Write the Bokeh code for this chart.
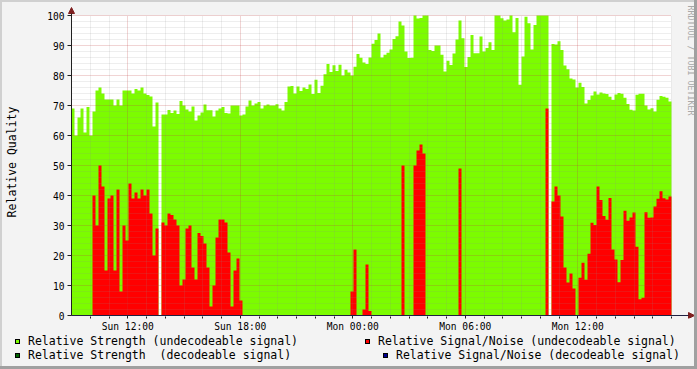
import math
import numpy as np
from bokeh.plotting import figure
from bokeh.layouts import column
from bokeh.models import (Range1d, FixedTicker, Label, Arrow, NormalHead, BoxAnnotation, Div)
from bokeh.embed import file_html
from bokeh.resources import INLINE

nan = float("nan")

# ---- time base: Sun 09:00 .. Mon 17:00 (hours since Sun 00:00) ----
start_hour = 9.0
step_hours = 0.16

# Relative Strength (undecodeable signal)
strength_undecodeable = [
    69, 60, 66, 69, 61, 69.5, 60, 68, 75, 76,
    74, 72, 72, 72, 70, 72, 70, 75, 75, 75,
    74, 75.5, 75, 76, 74, 73.5, 73, 63, 71, nan,
    67, 67, 68.5, 67.5, 68.3, 67.2, 71.5, 70, 68.7, 68,
    69.7, 65, 66.7, 67.7, 70.3, 68.4, 68.4, 66.3, 68.3, 69,
    69.5, 67.5, 67.3, 70, 70, 70, 66.7, 67, 69.7, 71.7,
    70, 70.7, 71.2, 69, 70, 70.3, 70, 70, 70.4, 69,
    68.3, 71.2, 76.3, 76.5, 74, 76.3, 74.8, 76, 75.5, 77,
    73.8, 78.6, 74.2, 76.6, 80.4, 83.8, 81.2, 83.4, 81.5, 83.6,
    80, 81.9, 81, 80, 82.9, 87.2, 85.9, 84.3, 83.8, 86,
    90.6, 91.8, 94, 86, 86.9, 87.6, 88.7, 92.2, 93.1, 98,
    96.7, 88, 85.8, 85.9, 100, 99, 99.2, 100, 100, 88.5,
    88.2, 90, 90, 86.9, 81.3, 84.9, 83.5, 87.3, 92, 98.3,
    92.4, 82.8, 86.2, 93.5, 87.4, 87.4, 93, 88, 89.2, 91.1,
    88.5, 100, 100, 99.1, 98.3, 98.7, 100, 94.4, 99.2, 76.9,
    86.3, 99.6, 97.4, 88.7, 96.8, 100, 100, 100, 100, nan,
    90.5, 90.3, 91.4, 88.5, 83.3, 82.1, 79, 78.7, 76, 77.6,
    76.2, 70.7, 71.8, 73.3, 74.7, 73.7, 74.3, 74, 73.8, 72.9,
    71.8, 73.7, 74.2, 73.9, 72.6, 70.5, 68.6, 68.3, 73.6, 73.9,
    73.9, 70, 68.7, 69.1, 68, 71.9, 73.2, 72.9, 72.6, 71.3,
]

# Relative Signal/Noise (undecodeable signal)
snr_undecodeable = [
    0, 0, 0, 0, 0, 0, 0, 40, 30, 50,
    43, 15, 39, 40, 15, 42, 8, 30, 25, 44,
    39, 41, 39, 42, 40, 42, 34, 20, 29, nan,
    31, 30, 34, 33.5, 32, 30, 10, 12, 29, 30,
    16, 12, 27.5, 26.5, 24, 16, 3, 10, 26, 32,
    32, 31, 21, 3, 15, 19, 5, 0, 0, 0,
    0, 0, 0, 0, 0, 0, 0, 0, 0, 0,
    0, 0, 0, 0, 0, 0, 0, 0, 0, 0,
    0, 0, 0, 0, 0, 0, 0, 0, 0, 0,
    0, 0, 0, 8, 22, 0, 0, 2, 17, 1.5,
    0, 0, 0, 0, 0, 0, 0, 0, 0, 0,
    50, 0, 0, 0, 50, 55, 57, 54, 0, 0,
    0, 0, 0, 0, 0, 0, 0, 0, 0, 49,
    0, 0, 0, 0, 0, 0, 0, 0, 0, 0,
    0, 0, 0, 0, 0, 0, 0, 0, 0, 0,
    0, 0, 0, 0, 0, 0, 0, 0, 69, nan,
    38, 43, 40, 33, 16, 11, 14, 9, 0, 12.6,
    17.6, 11.9, 20.6, 30.9, 30.2, 43, 38.5, 33.2, 31.9, 39.2,
    22, 18.7, 11.1, 18.5, 34.9, 31.6, 32.7, 34.3, 22.9, 5.4,
    5.9, 34.4, 32.6, 32.7, 36.3, 38.9, 41.4, 39.1, 38.7, 39.7,
]

major_tick_hours = [12, 18, 24, 30, 36]
major_tick_labels = ["Sun 12:00", "Sun 18:00", "Mon 00:00", "Mon 06:00", "Mon 12:00"]
y_ticks = list(range(0, 101, 10))

legend_labels = [
    "Relative Strength (undecodeable signal)",
    "Relative Strength  (decodeable signal)",
    "Relative Signal/Noise (undecodeable signal)",
    "Relative Signal/Noise (decodeable signal)",
]
legend_colors = ["#7CFC00", "#006400", "#FF0000", "#000090"]

FONT = "DejaVu Sans Mono"
BG = "#F3F3F3"

n = len(strength_undecodeable)
x_end = start_hour + step_hours * n


def step_polygons(values):
    """Turn a stepped series into filled polygons (one per run of known values)."""
    xs_all, ys_all = [], []
    xs, ys = [], []
    for i, v in enumerate(values):
        l = start_hour + i * step_hours
        r = l + step_hours
        if v != v:  # unknown
            if xs:
                xs_all.append(xs + [xs[-1]]); ys_all.append(ys + [0])
            xs, ys = [], []
            continue
        if not xs:
            xs, ys = [l], [0]
        xs += [l, r]
        ys += [v, v]
    if xs:
        xs_all.append(xs + [xs[-1]]); ys_all.append(ys + [0])
    return xs_all, ys_all


# layout geometry (pixels)
PX_H = 600.0 / (x_end - start_hour)   # pixels per hour
PX_V = 3.0                            # pixels per unit
FRAME_W, FRAME_H = 631, 313
x0 = start_hour - 4 / PX_H
y0 = -3 / PX_V

p = figure(frame_width=FRAME_W, frame_height=FRAME_H,
           min_border_left=61, min_border_right=0, min_border_top=3, min_border_bottom=16,
           x_range=Range1d(x0, x0 + FRAME_W / PX_H), y_range=Range1d(y0, y0 + FRAME_H / PX_V),
           output_backend="svg", toolbar_location=None,
           background_fill_color=BG, border_fill_color=BG, outline_line_color=None)

# white canvas of the graph
p.add_layout(BoxAnnotation(left=start_hour, right=x_end, bottom=0, top=100,
                           fill_color="white", fill_alpha=1, line_color=None, level="underlay"))

sx, sy = step_polygons(strength_undecodeable)
p.patches(xs=sx, ys=sy, fill_color=legend_colors[0], line_color=None)
rx, ry = step_polygons(snr_undecodeable)
p.patches(xs=rx, ys=ry, fill_color=legend_colors[2], line_color=None)

# axes
hour_minor = [h for h in range(10, 42) if h not in major_tick_hours]
p.xaxis.ticker = FixedTicker(ticks=major_tick_hours, minor_ticks=hour_minor)
p.xaxis.major_label_overrides = {h: l for h, l in zip(major_tick_hours, major_tick_labels)}
p.yaxis.ticker = FixedTicker(ticks=y_ticks, minor_ticks=[])

for ax in (p.xaxis[0], p.yaxis[0]):
    ax.axis_line_color = None
    ax.major_tick_line_color = "#1F1F1F"
    ax.minor_tick_line_color = "#1F1F1F"
    ax.major_label_text_font = FONT
    ax.major_label_text_font_size = "9.6px"
    ax.major_label_text_color = "#000000"
    ax.major_tick_out = 0
    ax.minor_tick_out = 0

p.xaxis.major_tick_in = 3
p.xaxis.minor_tick_in = 2
p.xaxis.major_label_standoff = 2
p.yaxis.major_tick_in = 4
p.yaxis.minor_tick_in = 0
p.yaxis.major_label_standoff = 3
p.yaxis.axis_label = "Relative Quality"
p.yaxis.axis_label_text_font = FONT
p.yaxis.axis_label_text_font_size = "11.5px"
p.yaxis.axis_label_text_font_style = "normal"
p.yaxis.axis_label_text_color = "#000000"
p.yaxis.axis_label_standoff = 25

p.xgrid.cross_bounds = (0, 100)
p.ygrid.cross_bounds = (start_hour, x_end)
for g in (p.xgrid[0], p.ygrid[0]):
    g.level = "annotation"
    g.grid_line_color = "#C04040"
    g.grid_line_alpha = 0.45
    g.grid_line_dash = "1 1"
    g.minor_grid_line_color = "#8C8C8C"
    g.minor_grid_line_alpha = 0.3
    g.minor_grid_line_dash = "1 1"
p.ygrid.ticker = FixedTicker(ticks=y_ticks, minor_ticks=[v for v in range(2, 100, 2) if v % 10])

# axis lines with arrows
head_kw = dict(size=6, fill_color="#7F1F1F", line_color="#7F1F1F")
p.add_layout(Arrow(x_start=start_hour, y_start=0, x_end=x_end + 23 / PX_H, y_end=0,
                   line_color="#202040", line_width=1, end=NormalHead(**head_kw), level="overlay"))
p.add_layout(Arrow(x_start=start_hour, y_start=0, x_end=start_hour, y_end=100 + 8 / PX_V,
                   line_color="#202020", line_width=1, end=NormalHead(**head_kw), level="overlay"))

# watermark
p.add_layout(Label(x=x_end + 19 / PX_H, y=100 + 10 / PX_V, text="RRDTOOL / TOBI OETIKER",
                   angle=-math.pi / 2, text_font=FONT, text_font_size="8.3px",
                   text_color="#A8A8A8", text_baseline="middle", text_align="left"))

# ---- legend (rrdtool style, two columns) ----
legend_slots = [(13, 0), (13, 14), (363, 0), (381, 14)]   # left, top in pixels
entries = []
for (lx, ty), lab, col in zip(legend_slots, legend_labels, legend_colors):
    entries.append(
        f'<div style="position:absolute;left:{lx}px;top:{ty}px;height:14px;display:flex;'
        f'align-items:center;white-space:pre;">'
        f'<span style="display:inline-block;width:5px;height:5px;border:1px solid #000;'
        f'background:{col};margin-right:8px;"></span>{lab}</div>')
legend_html = (f'<div style="position:relative;width:692px;height:30px;'
               f'font-family:\'{FONT}\';font-size:11.5px;color:#000;">' + "".join(entries) + "</div>")
legend_div = Div(text=legend_html, width=692, height=30,
                 styles={"background-color": BG, "margin": "0", "padding": "0"})

layout = column(p, legend_div, spacing=0, styles={"background-color": BG})

html = file_html(layout, INLINE, title="RRD graph")
css = ("<style>html{margin:0;padding:0;background:" + BG + ";}"
       "body{margin:0;padding:0;background:" + BG + ";"
       "border-top:2px solid #D0D0D0;border-left:2px solid #D0D0D0;}"
       "body::before{content:'';position:fixed;top:0;right:0;width:3px;height:100%;"
       "background:#A0A0A0;z-index:10;}"
       "body::after{content:'';position:fixed;left:0;bottom:0;width:100%;height:3px;"
       "background:#A0A0A0;z-index:10;}</style>")
html = html.replace("<head>", "<head>" + css, 1)
open("out.html", "w").write(html)
